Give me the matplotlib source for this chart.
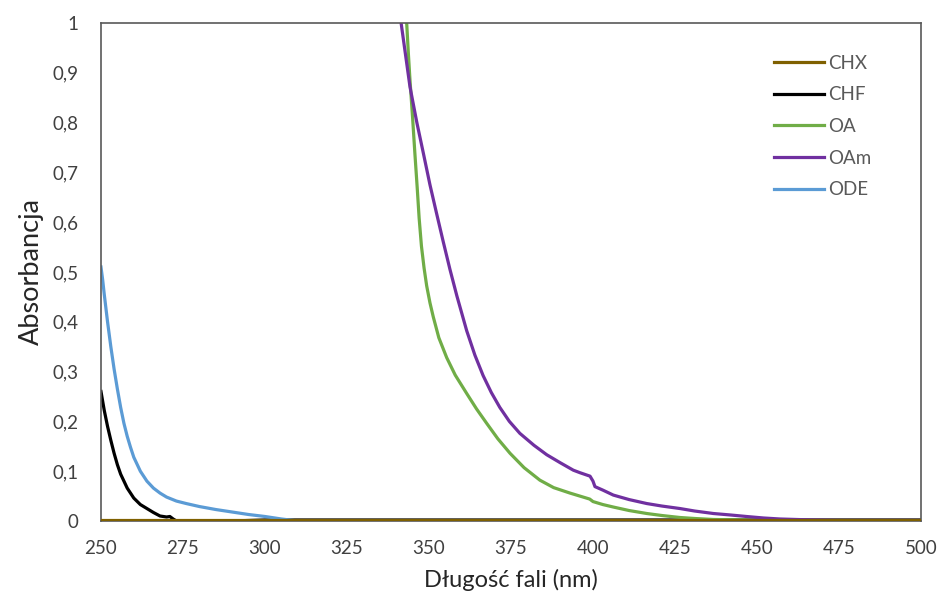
import matplotlib.pyplot as plt
from matplotlib.ticker import FuncFormatter

# Widma absorpcyjne rozpuszczalników / ligandów
chx_nm = [250, 300, 350, 400, 450, 500]
chx_abs = [0.002, 0.002, 0.002, 0.002, 0.002, 0.002]

chf_nm = [250, 251, 252, 253, 254, 255, 256, 258, 260, 262, 264, 266, 268,
          270, 271, 272, 273, 275, 280, 285, 290, 300, 400, 500]
chf_abs = [0.26, 0.222, 0.19, 0.162, 0.136, 0.113, 0.094, 0.066, 0.046, 0.033,
           0.025, 0.017, 0.010, 0.008, 0.009, 0.004, 0.0, -0.003, -0.004,
           -0.003, 0.0, 0.002, 0.002, 0.002]

oa_nm = [342.5, 343.2, 343.7, 344.2, 345.0, 345.7, 346.4, 347.0, 347.7, 348.5,
         349.3, 350.3, 351.3, 353.0, 355.4, 358.0, 361.5, 364.5, 367.6, 371.0,
         374.7, 379.0, 383.8, 388.0, 393.0, 396.0, 399.0, 400.0, 403.0, 406.2,
         411.0, 416.4, 421.0, 426.5, 431.0, 436.7, 447.0, 460.0, 500.0]
oa_abs = [1.1, 1.0, 0.94, 0.886, 0.81, 0.738, 0.67, 0.608, 0.552, 0.508,
          0.472, 0.438, 0.41, 0.368, 0.328, 0.293, 0.256, 0.225, 0.196, 0.165,
          0.136, 0.107, 0.082, 0.067, 0.056, 0.05, 0.044, 0.039, 0.033, 0.028,
          0.021, 0.015, 0.011, 0.007, 0.005, 0.003, 0.002, 0.001, 0.0]

oam_nm = [341.0, 341.5, 344.2, 346.3, 348.3, 350.3, 352.3, 354.3, 356.4, 358.5,
          361.5, 364.0, 366.5, 369.0, 371.6, 374.5, 377.7, 382.0, 385.9, 390.0,
          394.0, 396.0, 399.1, 400.0, 400.6, 403.0, 406.2, 411.0, 416.4, 421.0,
          426.5, 431.0, 436.7, 442.0, 446.8, 452.0, 457.0, 462.0, 467.0, 475.0,
          500.0]
oam_abs = [1.05, 1.0, 0.872, 0.80, 0.738, 0.675, 0.618, 0.562, 0.505, 0.452,
           0.382, 0.333, 0.292, 0.258, 0.228, 0.2, 0.176, 0.152, 0.133, 0.117,
           0.102, 0.097, 0.09, 0.08, 0.069, 0.062, 0.052, 0.043, 0.035, 0.03,
           0.025, 0.02, 0.015, 0.012, 0.009, 0.006, 0.004, 0.003, 0.002, 0.001,
           0.001]

ode_nm = [250, 250.5, 251, 252, 253, 254, 255, 256, 257, 258, 259, 260, 262,
          264, 266, 268, 270, 273, 276, 280, 285, 290, 295, 300, 305, 310,
          315, 400, 500]
ode_abs = [0.51, 0.485, 0.455, 0.40, 0.35, 0.305, 0.265, 0.228, 0.196, 0.17,
           0.148, 0.128, 0.1, 0.08, 0.066, 0.056, 0.048, 0.04, 0.035, 0.029,
           0.023, 0.018, 0.013, 0.009, 0.004, 0.0, -0.002, -0.002, -0.002]

fig = plt.figure(figsize=(9.42, 6), dpi=100)
ax = fig.add_axes([0.1072, 0.1317, 0.8705, 0.83])

lw = 2.3
ax.plot(chx_nm, chx_abs, color='#7f6000', lw=lw, label='CHX', zorder=4)
ax.plot(chf_nm, chf_abs, color='#000000', lw=lw, label='CHF', zorder=2)
ax.plot(oa_nm, oa_abs, color='#70ad47', lw=lw, label='OA', zorder=2)
ax.plot(oam_nm, oam_abs, color='#7030a0', lw=lw, label='OAm', zorder=2)
ax.plot(ode_nm, ode_abs, color='#5b9bd5', lw=lw, label='ODE', zorder=2)

ax.set_xlim(250, 500)
ax.set_ylim(0, 1)
ax.set_xticks(range(250, 501, 25))
ax.set_yticks([i / 10 for i in range(11)])


def comma(v, pos):
    if abs(v - round(v)) < 1e-9:
        return str(int(round(v)))
    return f'{v:.1f}'.replace('.', ',')


ax.yaxis.set_major_formatter(FuncFormatter(comma))
ax.tick_params(length=0, labelsize=13.5, labelcolor='#404040')
ax.tick_params(axis='y', pad=16)
ax.tick_params(axis='x', pad=14)

for s in ax.spines.values():
    s.set_color('#595959')
    s.set_linewidth(1.2)

font = 'Lato'
for lab in ax.get_xticklabels() + ax.get_yticklabels():
    lab.set_family(font)

ax.set_xlabel('Długość fali (nm)', fontsize=17, family=font, color='#262626', labelpad=8)
ax.set_ylabel('Absorbancja', fontsize=19.5, family=font, color='#262626', labelpad=6)

leg = ax.legend(loc='upper left', bbox_to_anchor=(0.8, 0.97), frameon=False,
                prop={'family': font, 'size': 13.5}, handlelength=2.7,
                handletextpad=0.2, labelspacing=0.78)
for t in leg.get_texts():
    t.set_color('#595959')

fig.savefig('out.png', dpi=100)
